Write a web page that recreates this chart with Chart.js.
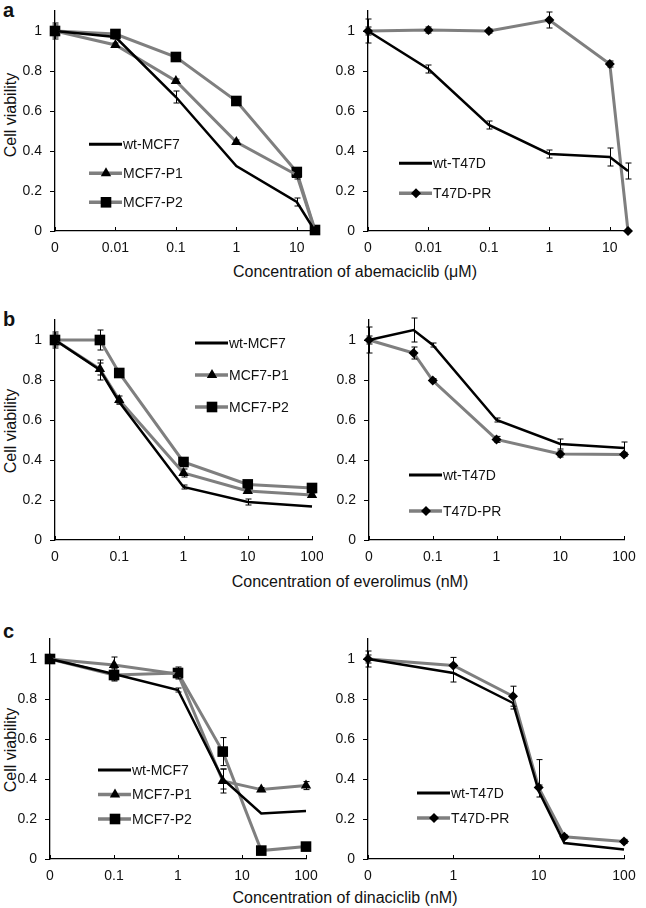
<!DOCTYPE html>
<html>
<head>
<meta charset="utf-8">
<script src="https://cdn.jsdelivr.net/npm/chart.js@4.4.1/dist/chart.umd.min.js"></script>
<style>
body { margin: 0; background: #fff; }
#fig { position: relative; width: 646px; height: 908px; font-family: "Liberation Sans", Arial, sans-serif; color: #111; }
#fig canvas { position: absolute; }
.letter { position: absolute; font-weight: bold; font-size: 20px; line-height: 1; }
.xt { position: absolute; font-size: 16px; line-height: 1; white-space: nowrap; transform: translateX(-50%); }
.yt { position: absolute; font-size: 16px; line-height: 1; white-space: nowrap; transform: translate(-50%, -50%) rotate(-90deg); }
</style>
</head>
<body>
<div id="fig">
  <div class="letter" style="left:3px;top:0px">a</div>
  <div class="letter" style="left:3px;top:309px">b</div>
  <div class="letter" style="left:3px;top:621px">c</div>
  <div class="yt" style="left:11px;top:115px">Cell viability</div>
  <div class="yt" style="left:11px;top:431px">Cell viability</div>
  <div class="yt" style="left:11px;top:750px">Cell viability</div>
  <div class="xt" style="left:355px;top:264px">Concentration of abemaciclib (μM)</div>
  <div class="xt" style="left:350px;top:574px">Concentration of everolimus (nM)</div>
  <div class="xt" style="left:345px;top:890px">Concentration of dinaciclib (nM)</div>
</div>
<script>
// --- data ---
// a: abemaciclib (µM)
const abemaDose = [0, 0.01, 0.1, 1, 10, 20];
const abemaTicks = ['0', '0.01', '0.1', '1', '10'];
const abemaWtMCF7 = [1.0, 0.97, 0.67, 0.325, 0.145, 0.0];
const abemaMCF7P1 = [1.0, 0.93, 0.75, 0.445, 0.28, 0.0];
const abemaMCF7P2 = [1.0, 0.985, 0.87, 0.65, 0.295, 0.005];
const abemaWtMCF7Err = [0.04, 0.01, 0.03, 0, 0.02, 0];
const abemaMCF7P1Err = [0.02, 0.01, 0.01, 0.01, 0.02, 0];
const abemaMCF7P2Err = [0.03, 0.01, 0.01, 0.02, 0.01, 0];
const abemaWtT47D = [1.0, 0.81, 0.53, 0.385, 0.37, 0.30];
const abemaT47DPR = [1.0, 1.005, 1.0, 1.055, 0.835, 0.0];
const abemaWtT47DErr = [0.06, 0.02, 0.02, 0.02, 0.045, 0.04];
const abemaT47DPRErr = [0.02, 0.015, 0.01, 0.04, 0.015, 0];

// b: everolimus (nM)
const everoDose = [0, 0.05, 0.1, 1, 10, 100];
const everoTicks = ['0', '0.1', '1', '10', '100'];
const everoWtMCF7 = [1.0, 0.85, 0.69, 0.265, 0.19, 0.167];
const everoMCF7P1 = [1.0, 0.855, 0.70, 0.335, 0.245, 0.225];
const everoMCF7P2 = [1.0, 1.0, 0.835, 0.39, 0.278, 0.26];
const everoWtMCF7Err = [0.04, 0.05, 0.01, 0.01, 0.015, 0];
const everoMCF7P1Err = [0.02, 0.03, 0.02, 0.02, 0.01, 0.01];
const everoMCF7P2Err = [0.03, 0.05, 0.01, 0.02, 0.01, 0.01];
const everoWtT47D = [1.0, 1.05, 0.975, 0.60, 0.48, 0.46];
const everoT47DPR = [1.0, 0.935, 0.797, 0.503, 0.43, 0.428];
const everoWtT47DErr = [0.065, 0.06, 0.01, 0.01, 0.025, 0.03];
const everoT47DPRErr = [0.02, 0.03, 0.01, 0.015, 0.015, 0.01];

// c: dinaciclib (nM)
const dinaDoseMCF7 = [0, 0.1, 1, 5, 20, 100];
const dinaTicksMCF7 = ['0', '0.1', '1', '10', '100'];
const dinaWtMCF7 = [1.0, 0.925, 0.845, 0.40, 0.228, 0.24];
const dinaMCF7P1 = [1.0, 0.97, 0.925, 0.39, 0.347, 0.367];
const dinaMCF7P2 = [1.0, 0.92, 0.93, 0.537, 0.042, 0.062];
const dinaWtMCF7Err = [0.02, 0.03, 0.01, 0.05, 0, 0];
const dinaMCF7P1Err = [0.02, 0.04, 0.02, 0.06, 0.01, 0.02];
const dinaMCF7P2Err = [0.02, 0.03, 0.03, 0.07, 0.01, 0.01];
const dinaDoseT47D = [0, 1, 5, 10, 20, 100];
const dinaTicksT47D = ['0', '1', '10', '100'];
const dinaWtT47D = [1.0, 0.93, 0.78, 0.34, 0.08, 0.047];
const dinaT47DPR = [1.0, 0.968, 0.814, 0.357, 0.111, 0.088];
const dinaWtT47DErr = [0.04, 0.045, 0.03, 0.03, 0, 0];
const dinaT47DPRErr = [0.02, 0.04, 0.05, 0.0, 0.01, 0.01];
const dinaT47DPRErrUp = [0.02, 0.04, 0.05, 0.14, 0.01, 0.01];

const yTicks = [0, 0.2, 0.4, 0.6, 0.8, 1];

const GRAY = '#7f7f7f';
const FONT = '"Liberation Sans", Arial, sans-serif';
Chart.defaults.font.family = FONT;
Chart.defaults.font.size = 14;
Chart.defaults.color = '#111';

// position on the broken-log axis: 0 at the first tick, then one step per decade
function axisPos(c, base) {
  return c === 0 ? 0 : 1 + Math.log10(c / base);
}

function wt(name, values, errors) {
  return { name, values, errors, color: '#000', width: 2.5, marker: false, radius: 0 };
}
function gray(name, values, errors, marker, radius, errorsUp) {
  return { name, values, errors, errorsUp, color: GRAY, width: 3, marker, radius };
}

function drawMarker(ctx, style, r, x, y) {
  ctx.beginPath();
  if (style === 'triangle') {
    for (let k = 0; k < 3; k++) {
      const a = k * 2 * Math.PI / 3;
      const px = x + Math.sin(a) * r, py = y - Math.cos(a) * r;
      k ? ctx.lineTo(px, py) : ctx.moveTo(px, py);
    }
  } else if (style === 'rect') {
    const s = Math.SQRT1_2 * r;
    ctx.rect(x - s, y - s, 2 * s, 2 * s);
  } else if (style === 'rectRot') {
    ctx.moveTo(x - r, y); ctx.lineTo(x, y - r); ctx.lineTo(x + r, y); ctx.lineTo(x, y + r);
  }
  ctx.closePath();
  ctx.fillStyle = '#000';
  ctx.fill();
}

const extras = {
  id: 'extras',
  afterDatasetsDraw(chart) {
    const ctx = chart.ctx, ys = chart.scales.y, xs = chart.scales.x;
    ctx.save();
    ctx.strokeStyle = '#000';
    ctx.lineWidth = 1;
    // error bars (lower / upper)
    chart.data.datasets.forEach((ds, i) => {
      const meta = chart.getDatasetMeta(i);
      ds.errors.forEach((e, j) => {
        const eu = ds.errorsUp ? ds.errorsUp[j] : e;
        if (!e && !eu) return;
        const v = ds.data[j].y;
        const px = Math.round(meta.data[j].x) + 0.5;
        const t = ys.getPixelForValue(v + eu), b = ys.getPixelForValue(v - e);
        ctx.beginPath();
        ctx.moveTo(px, t); ctx.lineTo(px, b);
        ctx.moveTo(px - 3, t); ctx.lineTo(px + 3, t);
        if (e) { ctx.moveTo(px - 3, b); ctx.lineTo(px + 3, b); }
        ctx.stroke();
      });
    });
    // small inward tick marks on the x axis
    const bottom = chart.chartArea.bottom;
    xs.ticks.forEach(t => {
      const px = Math.round(xs.getPixelForValue(t.value)) + 0.5;
      ctx.beginPath(); ctx.moveTo(px, bottom); ctx.lineTo(px, bottom - 4); ctx.stroke();
    });
    ctx.restore();
  },
  afterDraw(chart) {
    const lg = chart.options.plugins.extras;
    const ctx = chart.ctx;
    ctx.save();
    ctx.font = '14px ' + FONT;
    ctx.textBaseline = 'middle';
    chart.data.datasets.forEach((ds, i) => {
      const y = lg.y + i * lg.gap;
      ctx.strokeStyle = ds.borderColor;
      ctx.lineWidth = ds.borderWidth + 0.5;
      ctx.beginPath(); ctx.moveTo(lg.x, y); ctx.lineTo(lg.x + 33, y); ctx.stroke();
      if (ds.pointStyle) drawMarker(ctx, ds.pointStyle, ds.pointRadius, lg.x + 17, y);
      ctx.fillStyle = '#111';
      ctx.fillText(ds.label, lg.x + 34, y + 1);
    });
    ctx.restore();
  }
};

function makePanel(p) {
  const W = 323;
  const cl = p.col === 0 ? 0 : 323;
  const ct = p.top - 12;
  const H = p.bottom - p.top + 38;
  const canvas = document.createElement('canvas');
  canvas.width = W; canvas.height = H;
  canvas.style.left = cl + 'px'; canvas.style.top = ct + 'px';
  canvas.style.width = W + 'px'; canvas.style.height = H + 'px';
  document.getElementById('fig').appendChild(canvas);

  new Chart(canvas, {
    type: 'line',
    data: {
      datasets: p.series.map(s => ({
        label: s.name,
        data: s.values.map((v, i) => ({ x: axisPos(p.dose[i], p.base), y: v })),
        errors: s.errors,
        errorsUp: s.errorsUp,
        borderColor: s.color,
        borderWidth: s.width,
        pointStyle: s.marker,
        pointRadius: s.radius,
        pointBackgroundColor: '#000',
        pointBorderColor: '#000',
        pointBorderWidth: 0,
        tension: 0,
        clip: false
      }))
    },
    options: {
      animation: false,
      responsive: false,
      devicePixelRatio: 1,
      layout: { padding: { left: 0, top: 12, right: W - (p.right - cl), bottom: 2 } },
      plugins: {
        legend: { display: false },
        tooltip: { enabled: false },
        extras: { x: p.legend[0] - cl, y: p.legend[1] - ct, gap: p.legend[2] }
      },
      scales: {
        x: {
          type: 'linear', min: 0, max: p.xmax,
          afterBuildTicks: sc => { sc.ticks = p.ticks.map((t, i) => ({ value: i })); },
          ticks: { callback: (v, i) => p.ticks[i], padding: 9, maxRotation: 0, autoSkip: false, color: '#111' },
          grid: { display: true, drawOnChartArea: false, drawTicks: false },
          border: { color: '#000', width: 1.3 },
          afterFit: sc => { sc.height = 24; sc.paddingLeft = 0; sc.paddingRight = 0; }
        },
        y: {
          min: 0, max: 1.1,
          afterBuildTicks: sc => { sc.ticks = yTicks.map(v => ({ value: v })); },
          ticks: { callback: v => String(+v.toFixed(1)), padding: 8, color: '#111' },
          grid: { display: true, drawOnChartArea: false, drawTicks: true, tickLength: 5, color: '#000', tickWidth: 1 },
          border: { color: '#000', width: 1.3 },
          afterFit: sc => { sc.width = p.left - cl; sc.paddingTop = 0; sc.paddingBottom = 0; }
        }
      }
    },
    plugins: [extras]
  });
}

makePanel({
  col: 0, left: 55, right: 315, top: 10.7, bottom: 230.7, xmax: axisPos(20, 0.01),
  dose: abemaDose, base: 0.01, ticks: abemaTicks, legend: [89, 144, 29],
  series: [
    wt('wt-MCF7', abemaWtMCF7, abemaWtMCF7Err),
    gray('MCF7-P1', abemaMCF7P1, abemaMCF7P1Err, 'triangle', 6),
    gray('MCF7-P2', abemaMCF7P2, abemaMCF7P2Err, 'rect', 7.5)
  ]
});
makePanel({
  col: 1, left: 368, right: 628, top: 10.7, bottom: 230.7, xmax: axisPos(20, 0.01),
  dose: abemaDose, base: 0.01, ticks: abemaTicks, legend: [399, 163, 30],
  series: [
    wt('wt-T47D', abemaWtT47D, abemaWtT47DErr),
    gray('T47D-PR', abemaT47DPR, abemaT47DPRErr, 'rectRot', 5)
  ]
});
makePanel({
  col: 0, left: 55, right: 312, top: 320, bottom: 540, xmax: 4,
  dose: everoDose, base: 0.1, ticks: everoTicks, legend: [195, 343, 32],
  series: [
    wt('wt-MCF7', everoWtMCF7, everoWtMCF7Err),
    gray('MCF7-P1', everoMCF7P1, everoMCF7P1Err, 'triangle', 6),
    gray('MCF7-P2', everoMCF7P2, everoMCF7P2Err, 'rect', 7.5)
  ]
});
makePanel({
  col: 1, left: 369, right: 624, top: 320, bottom: 540, xmax: 4,
  dose: everoDose, base: 0.1, ticks: everoTicks, legend: [409, 475, 36],
  series: [
    wt('wt-T47D', everoWtT47D, everoWtT47DErr),
    gray('T47D-PR', everoT47DPR, everoT47DPRErr, 'rectRot', 5)
  ]
});
makePanel({
  col: 0, left: 50, right: 306, top: 639, bottom: 859, xmax: 4,
  dose: dinaDoseMCF7, base: 0.1, ticks: dinaTicksMCF7, legend: [98, 770, 24.5],
  series: [
    wt('wt-MCF7', dinaWtMCF7, dinaWtMCF7Err),
    gray('MCF7-P1', dinaMCF7P1, dinaMCF7P1Err, 'triangle', 6),
    gray('MCF7-P2', dinaMCF7P2, dinaMCF7P2Err, 'rect', 7.5)
  ]
});
makePanel({
  col: 1, left: 368, right: 624, top: 639, bottom: 859, xmax: 3,
  dose: dinaDoseT47D, base: 1, ticks: dinaTicksT47D, legend: [417, 793, 25],
  series: [
    wt('wt-T47D', dinaWtT47D, dinaWtT47DErr),
    gray('T47D-PR', dinaT47DPR, dinaT47DPRErr, 'rectRot', 5, dinaT47DPRErrUp)
  ]
});
</script>
</body>
</html>
